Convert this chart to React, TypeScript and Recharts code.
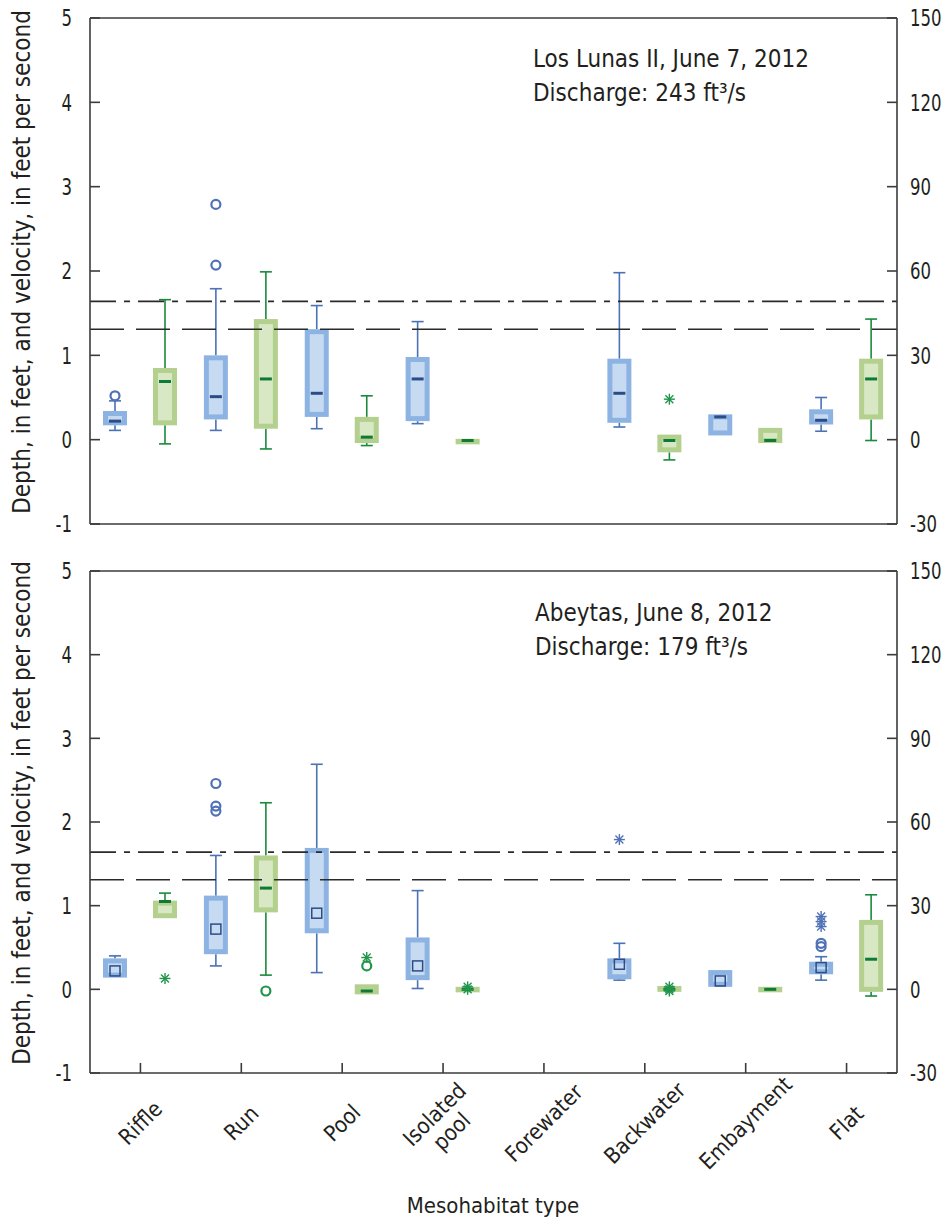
import { ComposedChart, Bar, XAxis, YAxis, ReferenceLine } from "recharts";

const FONT =
  "'Liberation Sans Narrow', 'Arial Narrow', 'DejaVu Sans Condensed', 'Liberation Sans', sans-serif";
const INK = "#231f20";
const AXIS = "#3b3b3b";

const categories = [
  "Riffle",
  "Run",
  "Pool",
  "Isolated pool",
  "Forewater",
  "Backwater",
  "Embayment",
  "Flat",
];

const leftDomain: [number, number] = [-1, 5];
const rightDomain: [number, number] = [-30, 150];
const leftTicks = [-1, 0, 1, 2, 3, 4, 5];
const rightTicks = [-30, 0, 30, 60, 90, 120, 150];
const dashDotLevel = 1.64;
const dashedLevel = 1.31;

type Stats = [number, number, number, number, number] | null;

// [low whisker, Q1, median, Q3, high whisker]
const lunasDepth: Stats[] = [
  [0.11, 0.17, 0.22, 0.34, 0.46],
  [0.11, 0.24, 0.51, 1.0, 1.79],
  [0.13, 0.27, 0.55, 1.31, 1.59],
  [0.19, 0.22, 0.72, 0.98, 1.4],
  null,
  [0.15, 0.2, 0.55, 0.96, 1.98],
  [0.05, 0.05, 0.27, 0.3, 0.3],
  [0.1, 0.18, 0.23, 0.36, 0.5],
];
const lunasVelocity: Stats[] = [
  [-0.05, 0.17, 0.69, 0.85, 1.66],
  [-0.11, 0.13, 0.72, 1.43, 1.99],
  [-0.07, -0.04, 0.03, 0.27, 0.52],
  [-0.03, -0.03, -0.01, 0.01, 0.01],
  null,
  [-0.24, -0.15, -0.01, 0.06, 0.06],
  [-0.04, -0.04, -0.01, 0.14, 0.14],
  [-0.01, 0.24, 0.72, 0.96, 1.43],
];
const lunasDepthCircles = [[0.52], [2.79, 2.07], [], [], [], [], [], []];
const lunasDepthStars: number[][] = [[], [], [], [], [], [], [], []];
const lunasVelocityCircles: number[][] = [[], [], [], [], [], [], [], []];
const lunasVelocityStars = [[], [], [], [], [], [0.48], [], []];

const abeytasDepth: Stats[] = [
  [0.14, 0.14, 0.22, 0.37, 0.4],
  [0.28, 0.42, 0.72, 1.12, 1.6],
  [0.2, 0.67, 0.91, 1.69, 2.69],
  [0.01, 0.11, 0.28, 0.62, 1.18],
  null,
  [0.11, 0.12, 0.3, 0.37, 0.55],
  [0.03, 0.03, 0.1, 0.23, 0.23],
  [0.11, 0.18, 0.26, 0.33, 0.39],
];
const abeytasVelocity: Stats[] = [
  [0.85, 0.85, 1.05, 1.06, 1.15],
  [0.17, 0.92, 1.21, 1.6, 2.23],
  [-0.06, -0.06, -0.02, 0.06, 0.06],
  [-0.03, -0.03, 0.0, 0.03, 0.03],
  null,
  [-0.03, -0.03, 0.0, 0.04, 0.04],
  [-0.03, -0.03, 0.0, 0.03, 0.03],
  [-0.08, -0.03, 0.36, 0.83, 1.13],
];
const abeytasDepthCircles = [[], [2.46, 2.19, 2.13], [], [], [], [], [], [0.55, 0.51]];
const abeytasDepthStars = [[], [], [], [], [], [1.79], [], [0.87, 0.81, 0.75]];
const abeytasVelocityCircles = [[], [-0.02], [0.28], [], [], [], [], []];
const abeytasVelocityStars = [[0.13], [], [0.38], [0.03, 0.0], [], [0.03, 0.0, -0.02], [], []];

const depthStyle = {
  box: "#8db3e2",
  fill: "#c6dbf1",
  whisker: "#4a72b4",
  median: "#2c4c86",
  outlier: "#4f72b5",
};
const velocityStyle = {
  box: "#b4d08e",
  fill: "#d8e7c4",
  whisker: "#198a3b",
  median: "#0d7a35",
  outlier: "#20954a",
};

function buildRows(
  depth: Stats[],
  velocity: Stats[],
  dc: number[][],
  ds: number[][],
  vc: number[][],
  vs: number[][]
) {
  return categories.map((cat, i) => ({
    cat,
    depth: depth[i],
    velocity: velocity[i],
    depthBox: depth[i] ? [depth[i]![1], depth[i]![3]] : null,
    velocityBox: velocity[i] ? [velocity[i]![1], velocity[i]![3]] : null,
    depthCircles: dc[i],
    depthStars: ds[i],
    velocityCircles: vc[i],
    velocityStars: vs[i],
  }));
}

const lunasRows = buildRows(
  lunasDepth,
  lunasVelocity,
  lunasDepthCircles,
  lunasDepthStars,
  lunasVelocityCircles,
  lunasVelocityStars
);
const abeytasRows = buildRows(
  abeytasDepth,
  abeytasVelocity,
  abeytasDepthCircles,
  abeytasDepthStars,
  abeytasVelocityCircles,
  abeytasVelocityStars
);

function Star({ cx, cy, color }: { cx: number; cy: number; color: string }) {
  const r = 5.5;
  const d = r * 0.72;
  return (
    <g stroke={color} strokeWidth={1.4}>
      <line x1={cx} y1={cy - r} x2={cx} y2={cy + r} />
      <line x1={cx - r} y1={cy} x2={cx + r} y2={cy} />
      <line x1={cx - d} y1={cy - d} x2={cx + d} y2={cy + d} />
      <line x1={cx - d} y1={cy + d} x2={cx + d} y2={cy - d} />
    </g>
  );
}

function boxShape(field: "depth" | "velocity", style: typeof depthStyle, squareMedian: boolean) {
  return (props: any) => {
    const { x, y, width, height, payload, background } = props;
    const s: Stats = payload[field];
    if (!s) return <g />;
    const [lo, q1, med, q3, hi] = s;
    let yOf: (v: number) => number;
    if (background && background.height) {
      const [d0, d1] = leftDomain;
      yOf = (v) => background.y + ((d1 - v) / (d1 - d0)) * background.height;
    } else {
      const k = height / Math.max(q3 - q1, 1e-6);
      yOf = (v) => y + (q3 - v) * k;
    }
    const cx = x + width / 2;
    const sw = 5;
    const cap = 6;
    const top = yOf(q3);
    const bottom = yOf(q1);
    const circles: number[] = payload[field + "Circles"] || [];
    const stars: number[] = payload[field + "Stars"] || [];
    return (
      <g>
        {hi > q3 && (
          <g stroke={style.whisker} strokeWidth={1.6}>
            <line x1={cx} y1={yOf(hi)} x2={cx} y2={top} />
            <line x1={cx - cap} y1={yOf(hi)} x2={cx + cap} y2={yOf(hi)} />
          </g>
        )}
        {lo < q1 && (
          <g stroke={style.whisker} strokeWidth={1.6}>
            <line x1={cx} y1={yOf(lo)} x2={cx} y2={bottom} />
            <line x1={cx - cap} y1={yOf(lo)} x2={cx + cap} y2={yOf(lo)} />
          </g>
        )}
        <rect
          x={x + sw / 2}
          y={top + sw / 2}
          width={width - sw}
          height={Math.max(bottom - top - sw, 0.5)}
          fill={style.fill}
          stroke={style.box}
          strokeWidth={sw}
        />
        {squareMedian ? (
          <rect
            x={cx - 5}
            y={yOf(med) - 5}
            width={10}
            height={10}
            fill="none"
            stroke={style.median}
            strokeWidth={1.5}
          />
        ) : (
          <line
            x1={cx - 6}
            y1={yOf(med)}
            x2={cx + 6}
            y2={yOf(med)}
            stroke={style.median}
            strokeWidth={3}
          />
        )}
        {circles.map((v, i) => (
          <circle
            key={"c" + i}
            cx={cx}
            cy={yOf(v)}
            r={4.5}
            fill="none"
            stroke={style.outlier}
            strokeWidth={2.2}
          />
        ))}
        {stars.map((v, i) => (
          <Star key={"s" + i} cx={cx} cy={yOf(v)} color={style.outlier} />
        ))}
      </g>
    );
  };
}

function CategoryTick(props: any) {
  const { x, y, payload } = props;
  const lines = String(payload.value).split(" ");
  const lh = 24;
  return (
    <g transform={`translate(${x},${y + 50}) rotate(-45)`}>
      {lines.map((t, i) => (
        <text
          key={i}
          x={0}
          y={(i - (lines.length - 1) / 2) * lh}
          textAnchor="middle"
          dominantBaseline="central"
          fontFamily={FONT}
          fontSize={22}
          fill={INK}
        >
          {t}
        </text>
      ))}
    </g>
  );
}

// condensed numeric tick labels, as in the narrow face of the original
function NumTick(props: any) {
  const { x, y, payload, textAnchor } = props;
  return (
    <text
      transform={`translate(${x},${y}) scale(0.8,1)`}
      textAnchor={textAnchor}
      dy="0.36em"
      fontFamily={FONT}
      fontSize={23}
      fill={INK}
    >
      {payload.value}
    </text>
  );
}

const axisStroke = { stroke: AXIS, strokeWidth: 1.6 };

function Panel({
  rows,
  height,
  marginTop,
  bottomHeight,
  showLabels,
  squareMedian,
}: {
  rows: any[];
  height: number;
  marginTop: number;
  bottomHeight: number;
  showLabels: boolean;
  squareMedian: boolean;
}) {
  return (
    <ComposedChart
      width={942}
      height={height}
      data={rows}
      margin={{ top: marginTop, right: 0, bottom: showLabels ? 0 : 15, left: 0 }}
      barGap={26}
    >
      <XAxis
        dataKey="cat"
        height={bottomHeight}
        interval={0}
        tickSize={-10}
        tickMargin={10}
        axisLine={axisStroke}
        tickLine={axisStroke}
        tick={showLabels ? <CategoryTick /> : false}
      />
      <XAxis
        xAxisId="top"
        dataKey="cat"
        orientation="top"
        height={1}
        interval={0}
        tickSize={-10}
        axisLine={axisStroke}
        tickLine={axisStroke}
        tick={false}
      />
      <YAxis
        yAxisId="left"
        width={90}
        domain={leftDomain}
        ticks={leftTicks}
        allowDataOverflow
        tickSize={-10}
        tickMargin={28}
        axisLine={axisStroke}
        tickLine={axisStroke}
        tick={<NumTick />}
      />
      <YAxis
        yAxisId="right"
        orientation="right"
        width={45}
        domain={rightDomain}
        ticks={rightTicks}
        allowDataOverflow
        tickSize={-10}
        tickMargin={23}
        axisLine={axisStroke}
        tickLine={axisStroke}
        tick={<NumTick />}
      />
      <ReferenceLine
        yAxisId="left"
        y={dashDotLevel}
        stroke="#2a2a2a"
        strokeWidth={1.6}
        strokeDasharray="26 8 6 8"
      />
      <ReferenceLine
        yAxisId="left"
        y={dashedLevel}
        stroke="#2a2a2a"
        strokeWidth={1.6}
        strokeDasharray="34 12"
      />
      <Bar
        dataKey="depthBox"
        yAxisId="left"
        barSize={24}
        isAnimationActive={false}
        shape={boxShape("depth", depthStyle, squareMedian)}
      />
      <Bar
        dataKey="velocityBox"
        yAxisId="left"
        barSize={24}
        isAnimationActive={false}
        shape={boxShape("velocity", velocityStyle, false)}
      />
    </ComposedChart>
  );
}

const yTitle = "Depth, in feet, and velocity, in feet per second";

export default function App() {
  return (
    <div
      style={{
        position: "absolute",
        left: 0,
        top: 0,
        width: 942,
        height: 1225,
        background: "#fff",
        fontFamily: FONT,
      }}
    >
      <div style={{ position: "absolute", left: 0, top: 0 }}>
        <Panel
          rows={lunasRows}
          height={540}
          marginTop={17}
          bottomHeight={1}
          showLabels={false}
          squareMedian={false}
        />
      </div>
      <div style={{ position: "absolute", left: 0, top: 540 }}>
        <Panel
          rows={abeytasRows}
          height={685}
          marginTop={30}
          bottomHeight={152}
          showLabels={true}
          squareMedian={true}
        />
      </div>
      <svg
        width={942}
        height={1225}
        style={{ position: "absolute", left: 0, top: 0, pointerEvents: "none" }}
      >
        <g fontFamily={FONT} fill={INK}>
          <text
            transform="translate(22,262) rotate(-90)"
            textAnchor="middle"
            dominantBaseline="central"
            fontSize={24}
          >
            {yTitle}
          </text>
          <text
            transform="translate(22,813) rotate(-90)"
            textAnchor="middle"
            dominantBaseline="central"
            fontSize={24}
          >
            {yTitle}
          </text>
          <text x={533} y={67} fontSize={25} transform="translate(533,0) scale(0.96,1) translate(-533,0)">
            Los Lunas II, June 7, 2012
          </text>
          <text x={533} y={101} fontSize={25} transform="translate(533,0) scale(0.96,1) translate(-533,0)">
            Discharge: 243 ft³/s
          </text>
          <text x={535} y={621} fontSize={25} transform="translate(535,0) scale(0.96,1) translate(-535,0)">
            Abeytas, June 8, 2012
          </text>
          <text x={535} y={655} fontSize={25} transform="translate(535,0) scale(0.96,1) translate(-535,0)">
            Discharge: 179 ft³/s
          </text>
          <text x={493} y={1213} textAnchor="middle" fontSize={22}>
            Mesohabitat type
          </text>
        </g>
      </svg>
    </div>
  );
}
